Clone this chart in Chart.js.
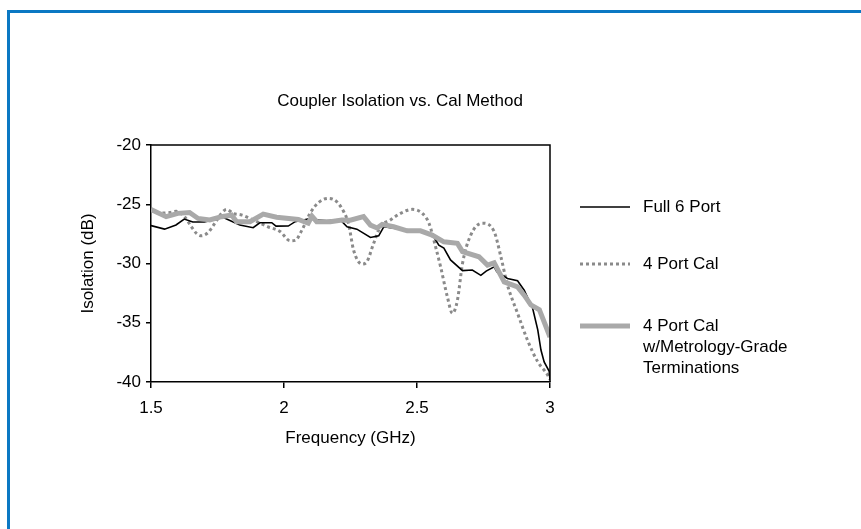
<!DOCTYPE html>
<html>
<head>
<meta charset="utf-8">
<script src="https://cdn.jsdelivr.net/npm/chart.js@4.4.1/dist/chart.umd.min.js"></script>
<style>
body { margin: 0; background: #fff; }
#wrap { position: relative; width: 861px; height: 529px; overflow: hidden; }
#frame { position: absolute; left: 7px; top: 10px; width: 900px; height: 600px;
  border-left: 3px solid #0b78c3; border-top: 3px solid #0b78c3; }
#myChart { position: absolute; left: 0; top: 0; }
</style>
</head>
<body>
<div id="wrap">
  <div id="frame"></div>
  <canvas id="myChart" width="861" height="529"></canvas>
</div>
<script>
// Full 6 Port (black)
let full6Freq = [1.500, 1.551, 1.594, 1.625, 1.657, 1.700, 1.740, 1.770, 1.805, 1.834, 1.884, 1.909, 1.954, 1.970,
    2.016, 2.042, 2.098, 2.117, 2.160, 2.211, 2.237, 2.274, 2.325, 2.356, 2.375, 2.438, 2.514, 2.563, 2.582, 2.601,
    2.626, 2.671, 2.708, 2.740, 2.760, 2.790, 2.800, 2.840, 2.878, 2.903, 2.935, 2.954, 2.966, 2.978, 2.997, 3.000];
let full6Db = [-26.8, -27.1, -26.75, -26.25, -26.5, -26.5, -26.3, -26.1, -26.45, -26.76, -26.98, -26.56, -26.56, -26.85,
    -26.84, -26.47, -26.2, -26.3, -26.4, -26.3, -26.9, -27.1, -27.8, -27.66, -26.9, -27.1, -27.3, -27.74, -28.45, -28.7,
    -29.7, -30.6, -30.55, -31.0, -30.64, -30.28, -30.7, -31.26, -31.46, -32.25, -33.8, -35.6, -37.3, -38.3, -39.1, -39.85];

// 4 Port Cal (dotted)
let cal4Freq = [1.500, 1.532, 1.570, 1.595, 1.626, 1.652, 1.671, 1.689, 1.714, 1.740, 1.765, 1.784, 1.809, 1.840,
    1.891, 1.940, 1.985, 2.023, 2.042, 2.067, 2.098, 2.129, 2.167, 2.199, 2.226, 2.242, 2.262, 2.293, 2.310, 2.337,
    2.362, 2.400, 2.438, 2.482, 2.520, 2.545, 2.570, 2.589, 2.614, 2.633, 2.652, 2.671, 2.702, 2.746, 2.790, 2.815,
    2.840, 2.878, 2.916, 2.954, 2.991, 3.000];
let cal4Db = [-25.5, -25.75, -25.7, -25.6, -26.05, -26.9, -27.46, -27.66, -27.4, -26.6, -25.77, -25.43, -25.77, -25.9,
    -26.4, -26.9, -27.3, -28.08, -28.05, -27.2, -25.77, -24.87, -24.5, -24.8, -25.7, -26.6, -28.9, -30.05, -29.9, -28.3,
    -26.9, -26.33, -25.77, -25.43, -25.77, -26.6, -28.6, -30.3, -32.8, -34.2, -33.1, -30.0, -27.6, -26.6, -27.3, -29.4,
    -31.8, -34.2, -36.5, -38.3, -39.4, -39.8];

// 4 Port Cal w/Metrology-Grade Terminations (thick grey)
let metroFreq = [1.500, 1.557, 1.601, 1.645, 1.677, 1.721, 1.765, 1.803, 1.822, 1.872, 1.922, 1.972, 2.054, 2.091,
    2.105, 2.123, 2.174, 2.218, 2.249, 2.299, 2.325, 2.350, 2.369, 2.412, 2.463, 2.513, 2.557, 2.601, 2.652, 2.671,
    2.733, 2.765, 2.790, 2.828, 2.878, 2.903, 2.928, 2.960, 3.000];
let metroDb = [-25.45, -26.05, -25.77, -25.7, -26.2, -26.33, -26.05, -25.9, -26.47, -26.47, -25.83, -26.1, -26.28, -26.6,
    -26.0, -26.47, -26.47, -26.33, -26.35, -26.05, -26.76, -27.0, -26.7, -26.9, -27.24, -27.24, -27.6, -28.17, -28.3, -29.0,
    -29.43, -30.13, -29.94, -31.55, -31.97, -32.67, -33.5, -33.9, -36.2];

let seriesNames = ['Full 6 Port', '4 Port Cal', ['4 Port Cal', 'w/Metrology-Grade', 'Terminations']];
let yTicks = [-40, -35, -30, -25, -20];
let xTicks = [1.5, 2, 2.5, 3];
let xTickLabels = ['1.5', '2', '2.5', '3'];

const FONT = '"Liberation Sans", Arial, Helvetica, sans-serif';
const FSIZE = 17;

function toPoints(fx, fy) {
    let pts = [];
    for (let i = 0; i < fx.length; i++) {
        pts.push({ x: fx[i], y: fy[i] });
    }
    return pts;
}

// title, plot box and the legend on the right
const extras = {
    id: 'extras',
    afterDraw(chart) {
        const ctx = chart.ctx;
        const a = chart.chartArea;
        ctx.save();
        ctx.strokeStyle = '#000';
        ctx.lineWidth = 1.5;
        ctx.beginPath();
        ctx.moveTo(a.left, a.top);
        ctx.lineTo(a.right, a.top);
        ctx.lineTo(a.right, a.bottom);
        ctx.stroke();

        ctx.fillStyle = '#000';
        ctx.font = FSIZE + 'px ' + FONT;
        ctx.textAlign = 'center';
        ctx.textBaseline = 'middle';
        ctx.fillText('Coupler Isolation vs. Cal Method', 400, 101);

        const rows = [207, 264, 326];
        ctx.textAlign = 'left';
        chart.data.datasets.forEach(function (ds, i) {
            const y = rows[i];
            ctx.beginPath();
            ctx.strokeStyle = ds.borderColor;
            ctx.lineWidth = ds.borderWidth;
            ctx.setLineDash(ds.borderDash || []);
            ctx.moveTo(580, y);
            ctx.lineTo(630, y);
            ctx.stroke();
            ctx.setLineDash([]);
            let lines = [].concat(seriesNames[i]);
            for (let k = 0; k < lines.length; k++) {
                ctx.fillText(lines[k], 643, y + k * 21);
            }
        });
        ctx.restore();
    }
};

var ctx = document.getElementById('myChart');
var chart = new Chart(ctx, {
    type: 'line',
    data: {
        datasets: [
            {
                label: 'Full 6 Port',
                data: toPoints(full6Freq, full6Db),
                borderColor: '#000000',
                borderWidth: 1.6,
                pointRadius: 0,
                tension: 0,
                order: 1
            },
            {
                label: '4 Port Cal',
                data: toPoints(cal4Freq, cal4Db),
                borderColor: '#8a8a8a',
                borderWidth: 3,
                borderDash: [3, 3],
                pointRadius: 0,
                cubicInterpolationMode: 'monotone',
                order: 2
            },
            {
                label: '4 Port Cal w/Metrology-Grade Terminations',
                data: toPoints(metroFreq, metroDb),
                borderColor: '#a9a9a9',
                borderWidth: 5,
                pointRadius: 0,
                tension: 0,
                order: 0
            }
        ]
    },
    options: {
        responsive: false,
        animation: false,
        layout: { padding: { left: 74, top: 145, right: 311, bottom: 76 } },
        plugins: {
            legend: { display: false },
            title: { display: false },
            tooltip: { enabled: false }
        },
        scales: {
            x: {
                type: 'linear',
                min: xTicks[0],
                max: xTicks[xTicks.length - 1],
                afterBuildTicks: function (s) { s.ticks = xTicks.map(v => ({ value: v })); },
                afterFit: function (s) { s.height = 71; },
                grid: { drawOnChartArea: false, drawTicks: true, tickLength: 6, color: '#000', lineWidth: 1.5 },
                border: { display: true, color: '#000', width: 1.5 },
                ticks: {
                    color: '#000', padding: 10, maxRotation: 0, font: { family: FONT, size: FSIZE },
                    callback: function (v, i) { return xTickLabels[i]; }
                },
                title: { display: true, text: 'Frequency (GHz)', color: '#000', font: { family: FONT, size: FSIZE } }
            },
            y: {
                min: yTicks[0],
                max: yTicks[yTicks.length - 1],
                afterBuildTicks: function (s) { s.ticks = yTicks.map(v => ({ value: v })); },
                afterFit: function (s) { s.width = 77; },
                grid: { drawOnChartArea: false, drawTicks: true, tickLength: 5, color: '#000', lineWidth: 1.5 },
                border: { display: true, color: '#000', width: 1.5 },
                ticks: { color: '#000', padding: 5, font: { family: FONT, size: FSIZE } },
                title: { display: true, text: 'Isolation (dB)', color: '#000', font: { family: FONT, size: FSIZE } }
            }
        }
    },
    plugins: [extras]
});
</script>
</body>
</html>
